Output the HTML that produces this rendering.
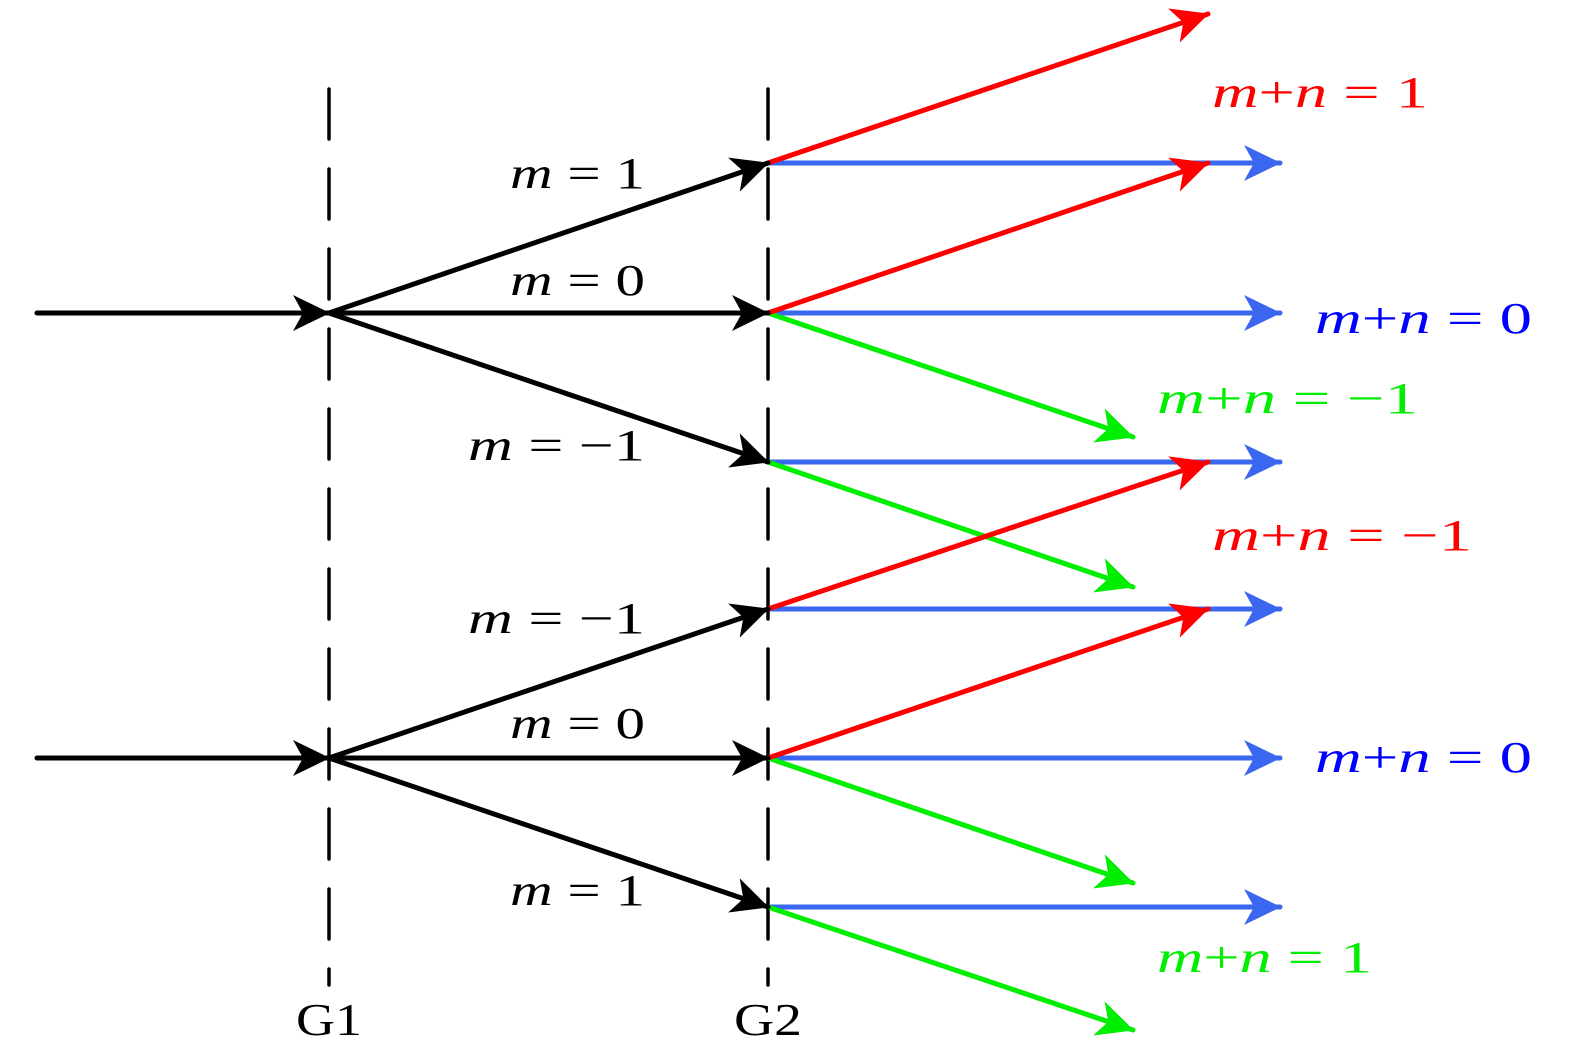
<!DOCTYPE html>
<html><head><meta charset="utf-8"><style>html,body{margin:0;padding:0;background:#fff}svg{display:block}</style></head>
<body>
<svg width="1575" height="1063" viewBox="0 0 1575 1063" xmlns="http://www.w3.org/2000/svg">
<defs>
<marker id="k" markerUnits="userSpaceOnUse" markerWidth="42" markerHeight="40" viewBox="-40 -20 42 40" refX="0" refY="0" orient="auto"><path d="M1,0 L-36,-18 L-26,0 L-36,18 Z" fill="#000"/></marker>
<marker id="r" markerUnits="userSpaceOnUse" markerWidth="42" markerHeight="40" viewBox="-40 -20 42 40" refX="0" refY="0" orient="auto"><path d="M1,0 L-36,-18 L-26,0 L-36,18 Z" fill="#f00"/></marker>
<marker id="b" markerUnits="userSpaceOnUse" markerWidth="42" markerHeight="40" viewBox="-40 -20 42 40" refX="0" refY="0" orient="auto"><path d="M1,0 L-36,-18 L-26,0 L-36,18 Z" fill="#3a66f0"/></marker>
<marker id="g" markerUnits="userSpaceOnUse" markerWidth="42" markerHeight="40" viewBox="-40 -20 42 40" refX="0" refY="0" orient="auto"><path d="M1,0 L-36,-18 L-26,0 L-36,18 Z" fill="#00ee00"/></marker>
</defs>
<g stroke="#000" stroke-width="3.5" stroke-dasharray="50 30" stroke-linecap="round">
<line x1="329" y1="89" x2="329" y2="985"/>
<line x1="768" y1="89" x2="768" y2="985"/>
</g>
<g stroke-width="5" stroke-linecap="round" fill="none">
<g stroke="#3a66f0" marker-end="url(#b)">
<line x1="768" y1="163" x2="1280" y2="163"/>
<line x1="768" y1="313" x2="1280" y2="313"/>
<line x1="768" y1="462" x2="1280" y2="462"/>
<line x1="768" y1="609" x2="1280" y2="609"/>
<line x1="768" y1="758" x2="1280" y2="758"/>
<line x1="768" y1="907" x2="1280" y2="907"/>
</g>
<g stroke="#00ee00" marker-end="url(#g)">
<line x1="768" y1="313" x2="1133" y2="437"/>
<line x1="768" y1="462" x2="1133" y2="587"/>
<line x1="768" y1="758" x2="1133" y2="883"/>
<line x1="768" y1="907" x2="1133" y2="1030"/>
</g>
<g stroke="#f00" marker-end="url(#r)">
<line x1="768" y1="163" x2="1208" y2="14"/>
<line x1="768" y1="313" x2="1208" y2="163"/>
<line x1="768" y1="609" x2="1208" y2="462"/>
<line x1="768" y1="758" x2="1208" y2="609"/>
</g>
<g stroke="#000" marker-end="url(#k)">
<line x1="37" y1="313" x2="329" y2="313"/>
<line x1="329" y1="313" x2="768" y2="163"/>
<line x1="329" y1="313" x2="768" y2="313"/>
<line x1="329" y1="313" x2="768" y2="462"/>
<line x1="37" y1="758" x2="329" y2="758"/>
<line x1="329" y1="758" x2="768" y2="609"/>
<line x1="329" y1="758" x2="768" y2="758"/>
<line x1="329" y1="758" x2="768" y2="907"/>
</g>
</g>
<g font-family="Liberation Serif, serif" font-size="44">
<text x="510" y="188" textLength="135" lengthAdjust="spacingAndGlyphs"><tspan font-style="italic">m</tspan> = 1</text>
<text x="510" y="295" textLength="135" lengthAdjust="spacingAndGlyphs"><tspan font-style="italic">m</tspan> = 0</text>
<text x="468" y="460" textLength="177" lengthAdjust="spacingAndGlyphs"><tspan font-style="italic">m</tspan> = −1</text>
<text x="468" y="633" textLength="177" lengthAdjust="spacingAndGlyphs"><tspan font-style="italic">m</tspan> = −1</text>
<text x="510" y="738" textLength="135" lengthAdjust="spacingAndGlyphs"><tspan font-style="italic">m</tspan> = 0</text>
<text x="510" y="905" textLength="135" lengthAdjust="spacingAndGlyphs"><tspan font-style="italic">m</tspan> = 1</text>
<text x="1212" y="107" fill="#f00" textLength="216" lengthAdjust="spacingAndGlyphs"><tspan font-style="italic">m</tspan>+<tspan font-style="italic">n</tspan> = 1</text>
<text x="1315" y="333" fill="#00f" textLength="217" lengthAdjust="spacingAndGlyphs"><tspan font-style="italic">m</tspan>+<tspan font-style="italic">n</tspan> = 0</text>
<text x="1157" y="413" fill="#00ee00" textLength="261" lengthAdjust="spacingAndGlyphs"><tspan font-style="italic">m</tspan>+<tspan font-style="italic">n</tspan> = −1</text>
<text x="1212" y="550" fill="#f00" textLength="260" lengthAdjust="spacingAndGlyphs"><tspan font-style="italic">m</tspan>+<tspan font-style="italic">n</tspan> = −1</text>
<text x="1315" y="772" fill="#00f" textLength="217" lengthAdjust="spacingAndGlyphs"><tspan font-style="italic">m</tspan>+<tspan font-style="italic">n</tspan> = 0</text>
<text x="1157" y="972" fill="#00ee00" textLength="215" lengthAdjust="spacingAndGlyphs"><tspan font-style="italic">m</tspan>+<tspan font-style="italic">n</tspan> = 1</text>
<text x="329" y="1035" text-anchor="middle" font-size="46" textLength="66" lengthAdjust="spacingAndGlyphs">G1</text>
<text x="768" y="1035" text-anchor="middle" font-size="46" textLength="68" lengthAdjust="spacingAndGlyphs">G2</text>
</g>
</svg>
</body></html>
